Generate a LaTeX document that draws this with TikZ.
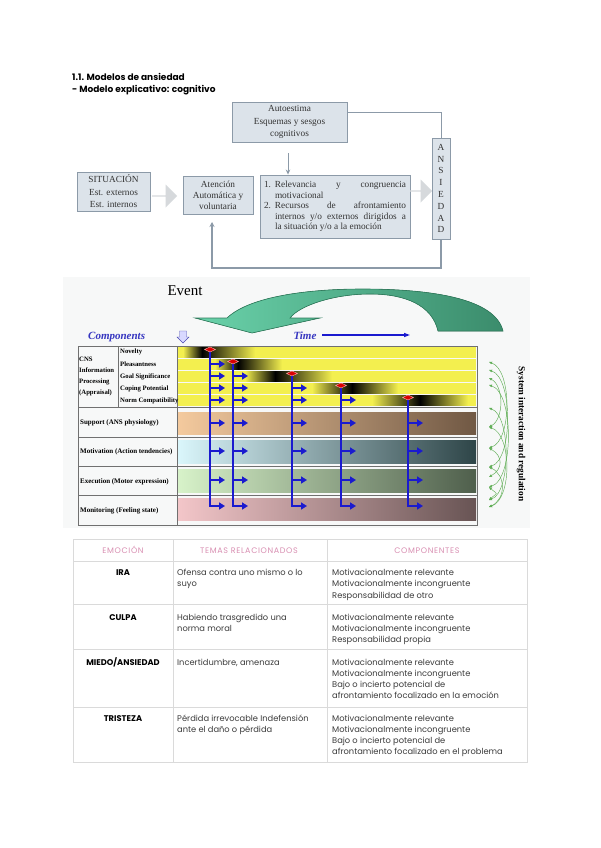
\documentclass[tikz,border=0pt]{standalone}
\usepackage{fontspec}
\setmainfont{Liberation Serif}
\newfontfamily\popp{Poppins}
\newfontfamily\popph{Poppins}[LetterSpace=8]
\usetikzlibrary{arrows.meta,shapes.arrows,calc}
\definecolor{boxfill}{HTML}{DCE3EA}
\definecolor{boxline}{HTML}{8C9AA8}
\definecolor{dtxt}{HTML}{333333}
\definecolor{garrow}{HTML}{D6D9DC}
\definecolor{yel}{HTML}{F3EF4F}
\definecolor{blu}{HTML}{1A1ACF}
\definecolor{compblue}{HTML}{3535C0}
\definecolor{pinkh}{HTML}{D98FB2}
\definecolor{tline}{HTML}{DADADA}
\definecolor{ttxt}{HTML}{3C3C3C}
\definecolor{bgc}{HTML}{F7F8F8}
\definecolor{gline}{HTML}{707070}
\definecolor{evl}{HTML}{6AD2AA}
\definecolor{evr}{HTML}{3B8C6C}
\definecolor{evb}{HTML}{2F7D5D}
\definecolor{garc}{HTML}{5FAE55}
\newcommand\mycell[2]{\parbox[t]{#1}{\raggedright #2}}
\begin{document}
\begin{tikzpicture}[x=1pt,y=-1pt,
  dbox/.style={draw=boxline, fill=boxfill, line width=0.9pt, text=dtxt, inner sep=0pt,
    font=\fontsize{9.3}{12.5}\selectfont, align=center},
  blockarrow/.style={single arrow, fill=garrow, inner sep=0pt, minimum width=23pt,
    single arrow head extend=3pt, anchor=west},
  conn/.style={draw=boxline, line width=1pt},
  bl/.style={draw=blu, line width=1.9pt},
  barr/.style={bl, -{Triangle[length=6pt,width=7pt]}},
  dia/.style={fill=red!85!black, draw=red!30!white, line width=0.4pt},
  garcs/.style={draw=garc, line width=0.45pt, {Triangle[length=3pt,width=2.5pt]}-{Triangle[length=3pt,width=2.5pt]}},
  lab/.style={font=\bfseries\fontsize{6.7}{11}\selectfont, inner sep=0pt, anchor=west, align=left},
  blab/.style={lab, font=\bfseries\fontsize{7}{8}\selectfont},
  tl/.style={draw=tline, line width=0.8pt},
  gl/.style={draw=gline, line width=0.6pt},
  thead/.style={font=\popph\fontsize{8}{9}\selectfont, text=pinkh, anchor=base, inner sep=0pt},
  tcell/.style={font=\popp\fontsize{8.3}{11.3}\selectfont, text=ttxt, anchor=base west, inner sep=0pt},
  trow/.style={font=\popp\bfseries\fontsize{8.3}{10}\selectfont, text=black, anchor=base, inner sep=0pt}
]
\useasboundingbox (0,0) rectangle (600,848);
\fill[white] (0,0) rectangle (600,848);

% ---------- titles
\node[anchor=base west, inner sep=0pt, font=\popp\bfseries\fontsize{9}{10}\selectfont] (t1) at (72,81) {1.1. Modelos de ansiedad};
\node[anchor=base west, inner sep=0pt, font=\popp\bfseries\fontsize{9}{10}\selectfont] (t2) at (72,93) {- Modelo explicativo: cognitivo};

% ---------- diagram 1
\node[dbox, minimum width=115, minimum height=40] (auto) at (289.5,122) {Autoestima\\Esquemas y sesgos\\cognitivos};
\node[dbox, minimum width=73, minimum height=39] (sit) at (113.5,191.5) {SITUACIÓN\\Est. externos\\Est. internos};
\node[dbox, minimum width=70, minimum height=38, font=\fontsize{9.3}{11}\selectfont] (aten) at (218,195) {Atención\\Automática y\\voluntaria};
\node[dbox, minimum width=150, minimum height=63, text width=142pt, align=justify, font=\fontsize{9.3}{10.6}\selectfont] (rel) at (335,206.5)
 {\hangindent=11pt\hangafter=1\makebox[11pt][l]{1.}Relevancia y congruencia\linebreak motivacional\par
  \hangindent=11pt\hangafter=1\makebox[11pt][l]{2.}Recursos de afrontamiento\linebreak internos y/o externos dirigidos a\linebreak la situación y/o a la emoción\par};
\node[dbox, minimum width=18, minimum height=101, font=\fontsize{9.3}{11.8}\selectfont] (ans) at (441,188.5) {A\\N\\S\\I\\E\\D\\A\\D};

\node[blockarrow, minimum height=25pt] (ar1) at (152,196) {};
\node[blockarrow, minimum height=22pt] (ar2) at (410,191) {};

\coordinate (ty) at (0,113);
\draw[conn] (auto.east |- ty) -- (ans.north |- ty) -- (ans.north);
\coordinate (a1) at (288,153);
\draw[conn, -{Stealth[length=5pt,width=4.5pt]}] (a1) -- (a1 |- rel.north);
\coordinate (fb) at (212,222);
\coordinate (fbb) at (0,268);
\draw[conn, line width=1.2pt, -{Stealth[length=5pt,width=5pt]}] (ans.south) -- (ans.south |- fbb) -| (fb);

% ---------- diagram 2 (component process model)
\fill[bgc] (63,277) rectangle (530,528);
\node[font=\fontsize{15}{16}\selectfont, inner sep=0pt, anchor=base] (event) at (185,295) {Event};

\filldraw[draw=evb, line width=0.6pt, left color=evl, right color=evr]
  (227,318) .. controls (250,296) and (310,289) .. (362,289)
  .. controls (430,289) and (495,298) .. (503,331)
  -- (438,331) .. controls (432,305) and (405,294) .. (370,294)
  .. controls (335,294) and (300,305) .. (290,318)
  -- (320,318) -- (252,333) -- (195,318) -- cycle;

\node[font=\bfseries\itshape\fontsize{11}{12}\selectfont, text=compblue, inner sep=0pt, anchor=base west] (comp) at (88,339) {Components};
\filldraw[fill=blue!15!white, draw=blue!40!gray, line width=0.4pt] (179.5,331) -- (186.5,331) -- (186.5,337) -- (189,337) -- (183,343) -- (177,337) -- (179.5,337) -- cycle;
\node[font=\bfseries\itshape\fontsize{11}{12}\selectfont, text=compblue, inner sep=0pt, anchor=base] (time) at (305,339) {Time};
\coordinate (tA) at (322,335);
\coordinate (tB) at (410,335);
\draw[draw=blu, line width=1.2pt, -{Triangle[length=6pt,width=4pt]}] (tA) -- (tB);

% appraisal bars
\foreach \i/\a/\d/\b in {0/183/202/255, 1/215/238/282, 2/245/275/332, 3/312/352/398, 4/372/420/468} {
  \pgfmathsetmacro\ya{347+12*\i}
  \pgfmathsetmacro\yb{\ya+10.5}
  \fill[yel] (178,\ya) rectangle (476,\yb);
  \shade[left color=yel, right color=black] (\a,\ya) rectangle (\d,\yb);
  \shade[left color=black, right color=yel] (\d,\ya) rectangle (\b,\yb);
}
% component bars
\shade[left color={rgb,255:red,244;green,202;blue,158}, right color={rgb,255:red,112;green,88;blue,68}] (178,412) rectangle (476,434);
\shade[left color={rgb,255:red,218;green,246;blue,251}, right color={rgb,255:red,46;green,69;blue,72}] (178,440.5) rectangle (476,463);
\shade[left color={rgb,255:red,215;green,242;blue,201}, right color={rgb,255:red,79;green,95;blue,76}] (178,469.5) rectangle (476,492);
\shade[left color={rgb,255:red,243;green,198;blue,201}, right color={rgb,255:red,104;green,84;blue,84}] (178,498.5) rectangle (476,520);

% grid
\draw[gl] (78,346) rectangle (477,525);
\draw[gl] (177,346) -- (177,525);
\draw[gl] (118,346) -- (118,407);
\draw[gl] (78,407.5) -- (477,407.5);
\draw[gl] (78,437) -- (477,437);
\draw[gl] (78,466) -- (477,466);
\draw[gl] (78,495) -- (477,495);

% blue process lines
\foreach \x/\r in {210/0,233/1,292/2,341/3,408/4} {
  \pgfmathsetmacro\yt{349.5+12*\r}
  \draw[barr, line join=miter] (\x,\yt) -- (\x,506) -- (\x+15,506);
  \foreach \j in {1,...,4} {\ifnum\j>\r \draw[barr] (\x,352+12*\j) -- ++(15,0); \fi}
  \foreach \yy in {423,451,480} {\draw[barr] (\x,\yy) -- ++(15,0);}
  \filldraw[dia] (\x-5.5,\yt) -- (\x,\yt-2.5) -- (\x+5.5,\yt) -- (\x,\yt+2.5) -- cycle;
}

% labels
\node[lab] (cns) at (79,376) {CNS\\Information\\Processing\\(Appraisal)};
\node[lab] (nov) at (120,352) {Novelty};
\node[lab] (ple) at (120,364) {Pleasantness};
\node[lab] (goal) at (120,376.5) {Goal Significance};
\node[lab] (cop) at (120,388.5) {Coping Potential};
\node[lab] (norm) at (120,400.5) {Norm Compatibility};
\node[blab] (sup) at (80,423) {Support (ANS physiology)};
\node[blab] (mot) at (80,452) {Motivation (Action tendencies)};
\node[blab] (exe) at (80,481.5) {Execution (Motor expression)};
\node[blab] (mon) at (80,511) {Monitoring (Feeling state)};

% system interaction arcs
\foreach \a/\c/\b in {362/448/512, 370/467/513, 378/427/504, 385/487/514, 408/500/511, 427/507/512, 448/477/503, 467/507/506, 487/500/498} {
  \draw[garcs] (489,\a) .. controls (\b,\a+8) and (\b,\c-8) .. (489,\c);
}
\node[rotate=-90, font=\bfseries\fontsize{9.3}{10}\selectfont, inner sep=0pt] (sys) at (521,434) {System interaction and regulation};

% ---------- table
\draw[tl] (73,539) rectangle (527,762);
\draw[tl] (73,561) -- (527,561);
\draw[tl] (73,604) -- (527,604);
\draw[tl] (73,649) -- (527,649);
\draw[tl] (73,707) -- (527,707);
\draw[tl] (173,539) -- (173,762);
\draw[tl] (327,539) -- (327,762);

\node[thead] (h1) at (123,553) {EMOCIÓN};
\node[thead] (h2) at (249,553) {TEMAS RELACIONADOS};
\node[thead] (h3) at (427,553) {COMPONENTES};

\node[trow] (r1) at (123,575.5) {IRA};
\node[tcell] (r1b) at (177,575.5) {\mycell{148pt}{Ofensa contra uno mismo o lo\\suyo}};
\node[tcell] (r1c) at (332,575.5) {\mycell{195pt}{Motivacionalmente relevante\\Motivacionalmente incongruente\\Responsabilidad de otro}};

\node[trow] (r2) at (123,620) {CULPA};
\node[tcell] (r2b) at (177,620) {\mycell{148pt}{Habiendo trasgredido una\\norma moral}};
\node[tcell] (r2c) at (332,620) {\mycell{195pt}{Motivacionalmente relevante\\Motivacionalmente incongruente\\Responsabilidad propia}};

\node[trow] (r3) at (123,665) {MIEDO/ANSIEDAD};
\node[tcell] (r3b) at (177,665) {\mycell{148pt}{Incertidumbre, amenaza}};
\node[tcell] (r3c) at (332,665) {\mycell{195pt}{Motivacionalmente relevante\\Motivacionalmente incongruente\\Bajo o incierto potencial de\\afrontamiento focalizado en la emoción}};

\node[trow] (r4) at (123,721) {TRISTEZA};
\node[tcell] (r4b) at (177,721) {\mycell{148pt}{Pérdida irrevocable Indefensión\\ante el daño o pérdida}};
\node[tcell] (r4c) at (332,721) {\mycell{195pt}{Motivacionalmente relevante\\Motivacionalmente incongruente\\Bajo o incierto potencial de\\afrontamiento focalizado en el problema}};
\end{tikzpicture}
\end{document}
